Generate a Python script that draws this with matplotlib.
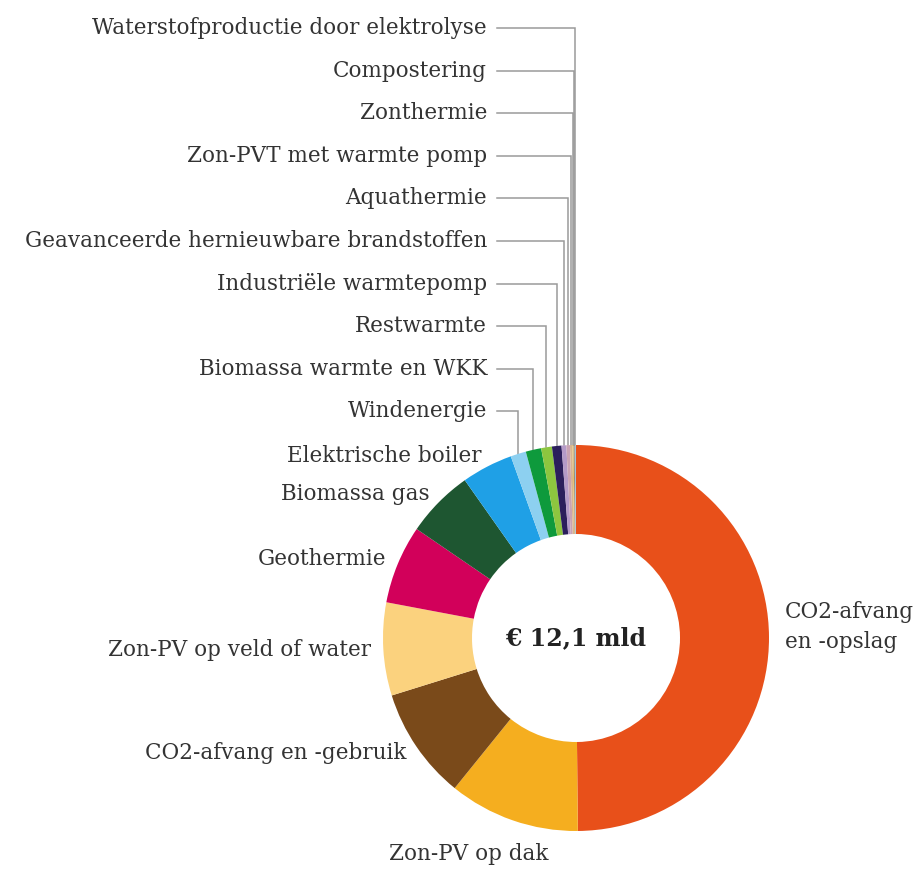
import numpy as np
import matplotlib
matplotlib.use("Agg")
import matplotlib.pyplot as plt

# Investeringen per techniek (aandeel in %), met de klok mee vanaf boven
labels = ['CO2-afvang\nen -opslag', 'Zon-PV op dak', 'CO2-afvang en -gebruik',
          'Zon-PV op veld of water', 'Geothermie', 'Biomassa gas',
          'Elektrische boiler', 'Windenergie', 'Biomassa warmte en WKK',
          'Restwarmte', 'Industriële warmtepomp',
          'Geavanceerde hernieuwbare brandstoffen', 'Aquathermie',
          'Zon-PVT met warmte pomp', 'Zonthermie', 'Compostering',
          'Waterstofproductie door elektrolyse']
shares = [50.0, 11.0, 9.4, 7.8, 6.6, 5.7, 4.3, 1.3, 1.3, 0.9, 0.8,
          0.4, 0.3, 0.2, 0.1, 0.1, 0.1]
colors = ['#E8501A', '#F5AE1F', '#7A4A1A', '#FBD27E', '#D2005A', '#1E5631',
          '#1FA0E6', '#8DD0F0', '#0E9A3C', '#8DC63F', '#2B1F5C', '#B49AC8',
          '#C9A3B4', '#D9B48F', '#E2C16B', '#9C8C7A', '#A0C4D8']
total_label = '€ 12,1 mld'

plt.rcParams['font.family'] = ['DejaVu Serif']
TXT = '#333333'
LINE = '#9a9a9a'
FS = 15.5

W, H = 921, 872
fig = plt.figure(figsize=(W / 100, H / 100), dpi=100)
ax = fig.add_axes([0, 0, 1, 1])

cx, cy = 576, H - 638
R, r_in = 193, 104

wedges, _ = ax.pie(shares, colors=colors, startangle=90, counterclock=False,
                   radius=R, center=(cx, cy), frame=True,
                   wedgeprops=dict(width=R - r_in, linewidth=0))
ax.set_xlim(0, W)
ax.set_ylim(0, H)
ax.set_aspect('equal')
ax.axis('off')

ax.text(cx, cy, total_label, ha='center', va='center', fontsize=17,
        fontweight='bold', color='#222222')

def mid_angle(w):
    return np.deg2rad((w.theta1 + w.theta2) / 2)

# labels rond de donut (grote aandelen)
n_big = 7
for i in range(n_big):
    a = mid_angle(wedges[i])
    if i == 0:
        ax.text(cx + R + 16, cy + R * np.sin(a) + 10, labels[i], ha='left',
                va='center', fontsize=FS, color=TXT, linespacing=1.45)
    elif i == 1:
        ax.text(cx - 107, cy - R - 12, labels[i], ha='center', va='top',
                fontsize=FS, color=TXT)
    else:
        rr = R + 12
        x, y = cx + rr * np.cos(a), cy + rr * np.sin(a)
        ax.text(x, y, labels[i], ha='right', va='center', fontsize=FS,
                color=TXT)

# kleine aandelen: labels in een kolom met verbindingslijnen
text_right = 487
top_y = H - 28
step = 42.6
small = list(range(n_big, len(labels)))
for k, i in enumerate(reversed(small)):
    y = top_y - k * step
    a = mid_angle(wedges[i])
    vx = cx + R * np.cos(a)
    vy = cy + R * np.sin(a)
    ax.text(text_right, y, labels[i], ha='right', va='center', fontsize=FS,
            color=TXT)
    ax.plot([text_right + 10, vx, vx], [y, y, vy], color=LINE, lw=1.1,
            solid_joinstyle='miter', zorder=0)

fig.savefig('out.png', dpi=100, facecolor='white')
